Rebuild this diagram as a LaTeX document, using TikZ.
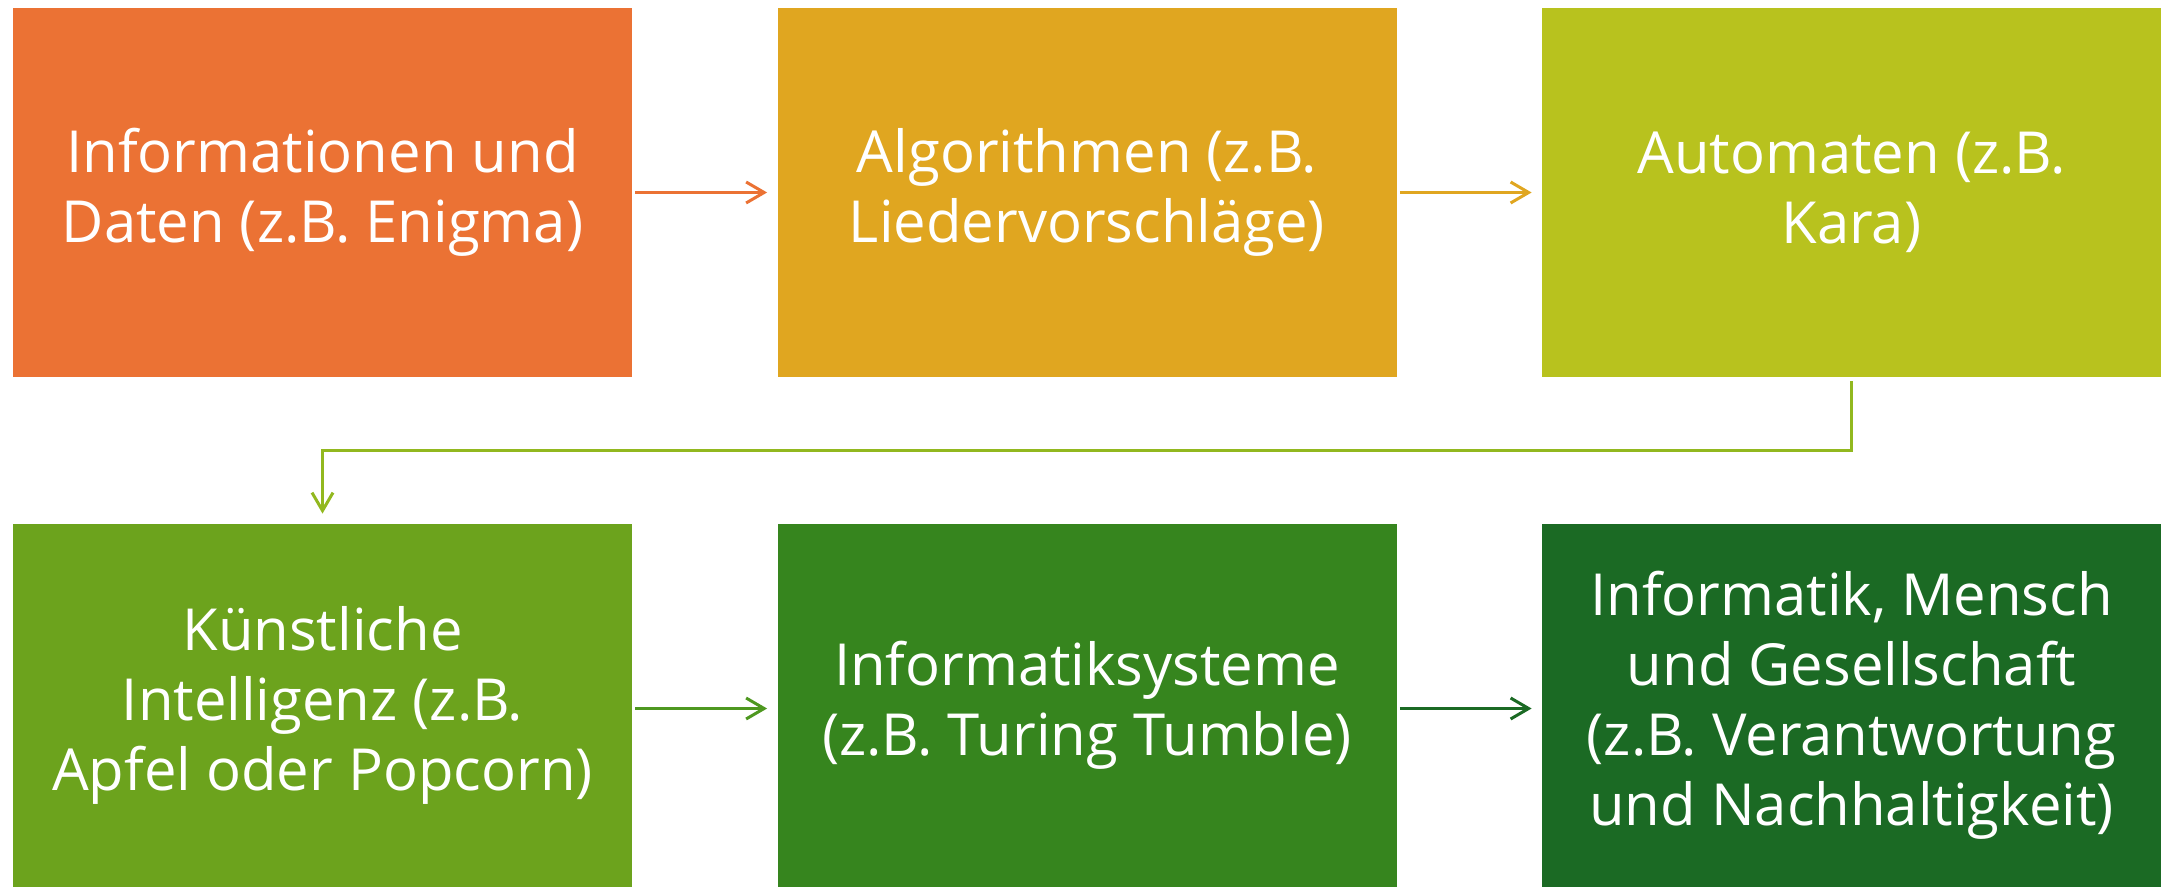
\documentclass[tikz,border=0pt]{standalone}
\usepackage{fontspec}
\setmainfont{Open Sans}
\usetikzlibrary{arrows.meta}
\definecolor{orangeA}{RGB}{235,114,52}
\definecolor{goldB}{RGB}{224,166,32}
\definecolor{limeC}{RGB}{184,194,30}
\definecolor{greenD}{RGB}{108,163,29}
\definecolor{greenE}{RGB}{54,133,30}
\definecolor{greenF}{RGB}{27,106,36}
\definecolor{linkC}{RGB}{146,184,31}
\definecolor{linkD}{RGB}{78,152,32}
\tikzset{box/.style={
		draw=none, inner sep=0pt, align=center, text=white,
		minimum width=309.5pt, font=\fontsize{29}{35}\selectfont
}}
\tikzset{link/.style={
		line width=1.5pt, shorten <=1.5pt, shorten >=5pt,
		-{Straight Barb[length=9pt,width=10.5pt,line width=1.5pt]}
}}

\begin{document}
\begin{tikzpicture}[x=0.5pt, y=-0.5pt]
  \useasboundingbox (0,0) rectangle (2163,887);

  \node[box, fill=orangeA, minimum height=184.5pt] (b1) at (322.5,192.5) {Informationen und\\Daten (z.B. Enigma)};
  \node[box, fill=goldB, minimum height=184.5pt] (b2) at (1087,192.5) {Algorithmen (z.B.\\Liedervorschläge)};
  \node[box, fill=limeC, minimum height=184.5pt] (b3) at (1851.5,192.5) {Automaten (z.B.\\Kara)};

  \node[box, fill=greenD, minimum height=181.5pt] (b4) at (322.5,705.5) {Künstliche\\Intelligenz (z.B.\\Apfel oder Popcorn)};
  \node[box, fill=greenE, minimum height=181.5pt] (b5) at (1087,705.5) {Informatiksysteme\\(z.B. Turing Tumble)};
  \node[box, fill=greenF, minimum height=181.5pt] (b6) at (1851.5,705.5) {Informatik, Mensch\\und Gesellschaft\\(z.B. Verantwortung\\und Nachhaltigkeit)};

  \draw[link, orangeA] (b1.east) -- (b2.west);
  \draw[link, goldB] (b2.east) -- (b3.west);
  \draw[link, linkC, shorten <=2pt] (b3.south) -- ++(0,73) -| (b4.north);
  \draw[link, linkD] ([yshift=-1.5pt]b4.east) -- ([yshift=-1.5pt]b5.west);
  \draw[link, greenF] ([yshift=-1.5pt]b5.east) -- ([yshift=-1.5pt]b6.west);
\end{tikzpicture}
\end{document}
